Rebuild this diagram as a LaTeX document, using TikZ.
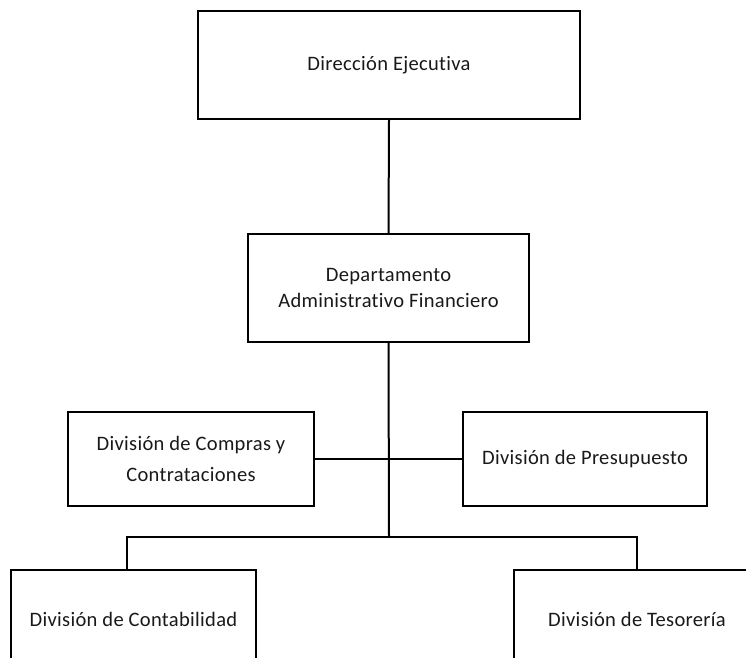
\documentclass[tikz,border=0pt]{standalone}
\usepackage{fontspec}
\setmainfont[Ligatures={NoCommon},LetterSpace=1.5]{Carlito}
\begin{document}
\begin{tikzpicture}[x=0.75pt,y=-0.75pt,
  orgbox/.style={draw=black,line width=1.5pt,inner sep=0pt,align=center,
    font=\fontsize{15.4}{19.5}\selectfont,text=black!90},
  conn/.style={draw=black,line width=1.5pt}]
\useasboundingbox (0,0) rectangle (746,657);
\clip (0,0) rectangle (746,657);
\node[orgbox,minimum width=382*0.75pt,minimum height=108*0.75pt] (dir) at (389,65) {Dirección Ejecutiva};
\node[orgbox,minimum width=281*0.75pt,minimum height=108*0.75pt] (dep) at (388.5,288) {Departamento\\Administrativo Financiero};
\node[orgbox,minimum width=246*0.75pt,minimum height=94*0.75pt] (comp) at (191,459) {División de Compras y\\[3.5pt]Contrataciones};
\node[orgbox,minimum width=244*0.75pt,minimum height=94*0.75pt] (pres) at (585,459) {División de Presupuesto};
\node[orgbox,minimum width=245*0.75pt,minimum height=98*0.75pt] (cont) at (133.5,619) {División de Contabilidad};
\node[orgbox,minimum width=246*0.75pt,minimum height=98*0.75pt] (tes) at (637,619) {División de Tesorería};
\coordinate (j) at (389,537);
\draw[conn] (dir.south) -- (dep.north);
\draw[conn] (dep.south) -- (j);
\draw[conn] (comp.east) -- (pres.west);
\draw[conn] (127,570) |- (j) -| (tes.north);
\end{tikzpicture}
\end{document}
